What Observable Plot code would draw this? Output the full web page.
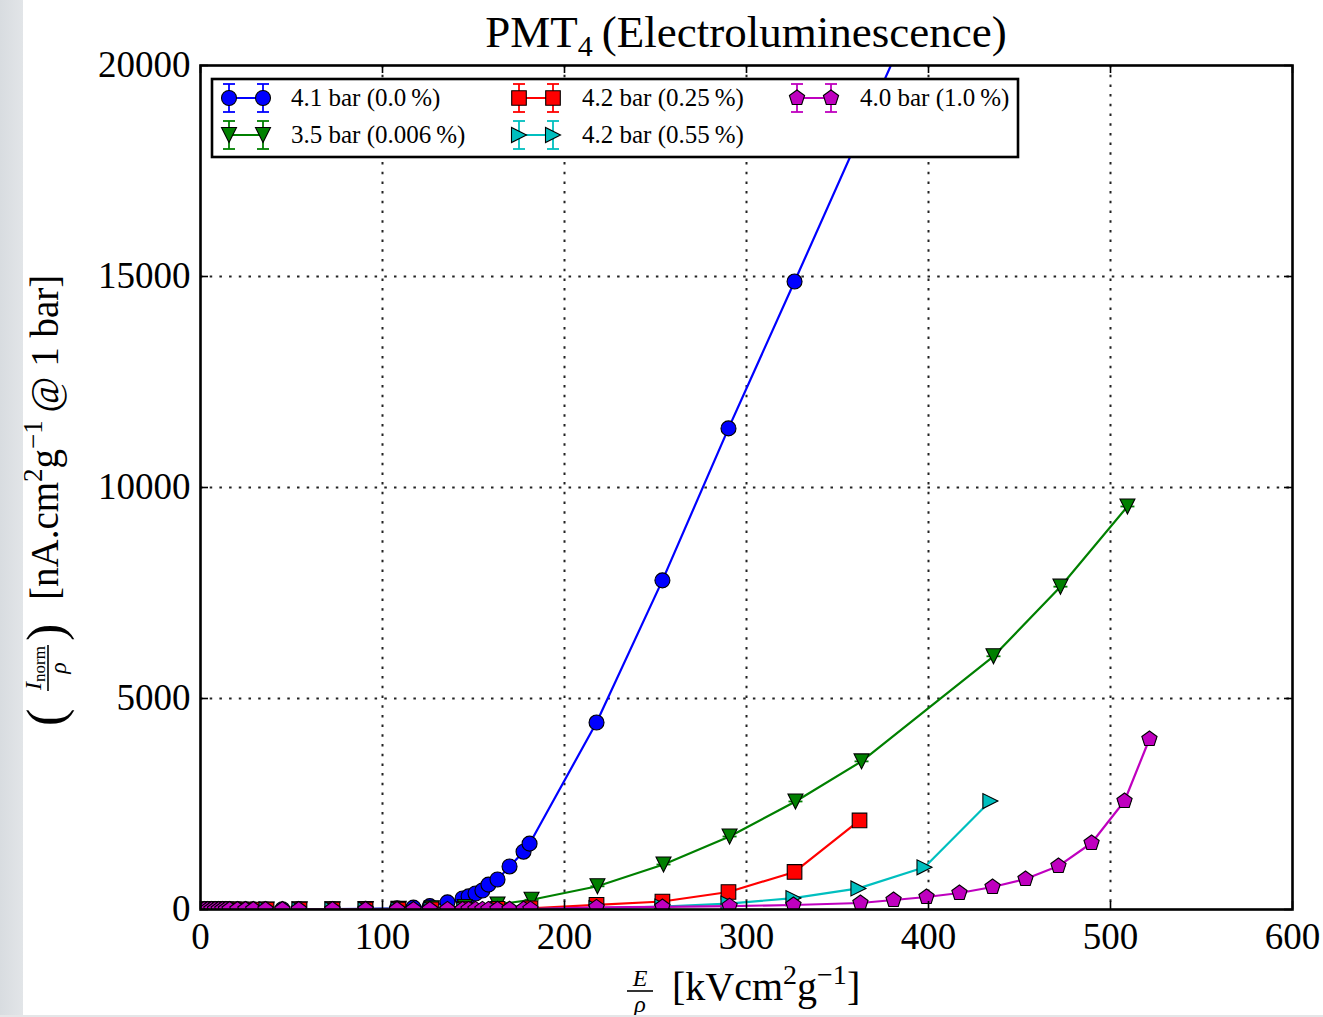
<!DOCTYPE html>
<html><head><meta charset="utf-8">
<script src="https://cdn.jsdelivr.net/npm/d3@7"></script>
<script src="https://cdn.jsdelivr.net/npm/@observablehq/plot@0.6"></script>
<style>
body{margin:0;background:#fff;}
#wrap{position:relative;width:1323px;height:1017px;overflow:hidden;font-family:"Liberation Serif",serif;background:#fff;}
#wrap svg{position:absolute;left:0;top:0;}
#wrap svg text{font-family:"Liberation Serif",serif;}
#strip{position:absolute;left:0;top:0;width:23px;height:1017px;background:linear-gradient(90deg,#d8dce0,#e2e5e8);}
#bstrip{position:absolute;left:0;top:1015px;width:1323px;height:2px;background:#e4e6e8;}
</style></head><body><div id="wrap"></div>
<script>
const xTicks = [0, 100, 200, 300, 400, 500, 600];
const yTicks = [0, 5000, 10000, 15000, 20000];

const seriesNames = ["4.1 bar (0.0\u2009%)", "3.5 bar (0.006\u2009%)", "4.2 bar (0.25\u2009%)", "4.2 bar (0.55\u2009%)", "4.0 bar (1.0\u2009%)"];
const seriesColors = ["#0000ff", "#008000", "#ff0000", "#00bfbf", "#bf00bf"];

const blueX = [2, 4, 6, 8, 10, 12, 14, 16, 20.3, 24.7, 29, 35.7, 45, 54, 72.5, 90.7, 108, 117, 126, 135.7, 144, 147.3, 151.1, 154.9, 158.2, 163.2, 169.8, 177.5, 180.8, 217.6, 253.8, 290.1, 326.4, 400];
const blueY = [0, 0, 0, 0, 0, 1, 1, 1, 2, 2, 3, 4, 6, 8, 12, 18, 30, 45, 80, 170, 260, 310, 380, 450, 590, 710, 1020, 1370, 1560, 4430, 7800, 11400, 14880, 22000];

const greenX = [2, 4, 6, 8, 10, 12, 14, 18.2, 36.3, 54.5, 72.6, 90.8, 108.9, 127.1, 145.2, 163.2, 181.9, 218.1, 254.4, 290.7, 326.9, 363.2, 435.7, 472.5, 509.3];
const greenY = [0, 0, 0, 0, 0, 0, 0, 0, 1, 2, 4, 8, 15, 30, 60, 120, 230, 550, 1066, 1730, 2560, 3510, 6000, 7650, 9550];

const redX = [2, 4, 6, 8, 10, 12, 14, 20.3, 24.7, 29, 36.3, 54.4, 72.5, 90.7, 108.8, 126.9, 145, 163.2, 181.3, 217.6, 253.8, 290.1, 326.4, 362.1];
const redY = [0, 0, 0, 0, 0, 0, 0, 0, 0, 0, 0, 0, 1, 1, 2, 4, 8, 15, 30, 110, 190, 415, 890, 2110];

const cyanX = [2, 4, 6, 8, 10, 12, 14, 20.3, 24.7, 29, 36.3, 54.4, 72.5, 90.7, 108.8, 126.9, 145, 163.2, 181.3, 217.6, 253.8, 290.1, 325.8, 361.5, 397.8, 434];
const cyanY = [0, 0, 0, 0, 0, 0, 0, 0, 0, 0, 0, 0, 0, 0, 1, 1, 2, 4, 8, 30, 70, 140, 270, 500, 1000, 2570];

const magentaX = [2, 4, 6, 8, 10, 12, 14, 16, 20.3, 24.7, 29, 35.7, 45, 54, 72.5, 90.7, 108, 117, 126, 135.7, 144, 147.3, 151.1, 154.9, 158.2, 163.2, 169.8, 177.5, 181.3, 217.6, 253.8, 290.7, 325.8, 362.6, 380.8, 398.9, 417, 435.2, 453.3, 471.4, 489.6, 507.7, 521.4];
const magentaY = [0, 0, 0, 0, 0, 0, 0, 0, 0, 0, 0, 0, 0, 0, 0, 0, 1, 1, 1, 2, 2, 3, 3, 4, 4, 5, 6, 8, 10, 50, 60, 80, 107, 154, 225, 296, 391, 533, 723, 1030, 1576, 2571, 4040];

// marker shapes (matplotlib-like), size = PI r^2
const rad = s => Math.sqrt(s / Math.PI);
const symCircle = {draw(c, s){const r = rad(s); c.moveTo(r, 0); c.arc(0, 0, r, 0, 2*Math.PI); c.closePath();}};
const symTriDown = {draw(c, s){const a = rad(s); c.moveTo(0, a); c.lineTo(-a, -a); c.lineTo(a, -a); c.closePath();}};
const symTriRight = {draw(c, s){const a = rad(s); c.moveTo(a, 0); c.lineTo(-a, -a); c.lineTo(-a, a); c.closePath();}};
const symSquare = {draw(c, s){const a = rad(s); c.moveTo(-a, -a); c.lineTo(a, -a); c.lineTo(a, a); c.lineTo(-a, a); c.closePath();}};
const symPentagon = {draw(c, s){const R = rad(s); for (let k = 0; k < 5; k++){const t = -Math.PI/2 + k*2*Math.PI/5; const px = R*Math.cos(t), py = R*Math.sin(t); k ? c.lineTo(px, py) : c.moveTo(px, py);} c.closePath();}};
const symCap = {draw(c, s){const a = rad(s); c.moveTo(-a, 0); c.lineTo(a, 0);}};

const series = [
  {name: seriesNames[0], color: seriesColors[0], xs: blueX, ys: blueY, sym: symCircle, r: 7.5},
  {name: seriesNames[1], color: seriesColors[1], xs: greenX, ys: greenY, sym: symTriDown, r: 7.5},
  {name: seriesNames[2], color: seriesColors[2], xs: redX, ys: redY, sym: symSquare, r: 7.3},
  {name: seriesNames[3], color: seriesColors[3], xs: cyanX, ys: cyanY, sym: symTriRight, r: 7.5},
  {name: seriesNames[4], color: seriesColors[4], xs: magentaX, ys: magentaY, sym: symPentagon, r: 8}
];

const W = 1323, H = 1017, mL = 200, mR = 31, mT = 65, mB = 108;
const plotW = W - mL - mR, plotH = H - mT - mB;
const tickLen = 8;

const marks = [
  Plot.gridX(xTicks.slice(1, -1), {stroke: "#222", strokeOpacity: 1, strokeWidth: 2, strokeDasharray: "2.5,7.2"}),
  Plot.gridY(yTicks.slice(1, -1), {stroke: "#222", strokeOpacity: 1, strokeWidth: 2, strokeDasharray: "2.5,7.2"})
];
for (const s of series) {
  const data = s.xs.map((x, i) => ({x, y: s.ys[i]}));
  marks.push(
    Plot.line(data, {x: "x", y: "y", stroke: s.color, strokeWidth: 2.2, clip: true}),
    Plot.dot(data, {x: "x", y: "y", symbol: symCap, r: 7, fill: "none", stroke: s.color, strokeWidth: 1.8, clip: true}),
    Plot.dot(data, {x: "x", y: "y", symbol: s.sym, r: s.r, fill: s.color, stroke: "black", strokeWidth: 1.1, clip: true})
  );
}
marks.push(
  Plot.ruleX(xTicks, {insetTop: plotH - tickLen, stroke: "black", strokeWidth: 1.6}),
  Plot.ruleX(xTicks, {insetBottom: plotH - tickLen, stroke: "black", strokeWidth: 1.6}),
  Plot.ruleY(yTicks, {insetRight: plotW - tickLen, stroke: "black", strokeWidth: 1.6}),
  Plot.ruleY(yTicks, {insetLeft: plotW - tickLen, stroke: "black", strokeWidth: 1.6}),
  Plot.frame({stroke: "black", strokeWidth: 2.6}),
  Plot.axisX(xTicks, {tickSize: 0, tickPadding: 13, fontSize: 37, tickFormat: d => String(d), label: null}),
  Plot.axisY(yTicks, {tickSize: 0, tickPadding: 10, fontSize: 37, tickFormat: d => String(d), label: null})
);

const chart = Plot.plot({
  width: W, height: H,
  marginLeft: mL, marginRight: mR, marginTop: mT, marginBottom: mB,
  style: {fontFamily: "'Liberation Serif', serif", fontSize: "37px", background: "transparent", color: "black", overflow: "visible"},
  x: {domain: [0, 600], ticks: xTicks},
  y: {domain: [0, 20000], ticks: yTicks},
  marks
});
const wrap = document.getElementById("wrap");
wrap.appendChild(chart);

// overlay: title, axis labels, legend
const ov = d3.select(wrap).append("svg").attr("width", W).attr("height", H)
  .attr("font-family", "Liberation Serif").style("pointer-events", "none");

// title
const title = ov.append("text").attr("x", mL + plotW / 2).attr("y", 47).attr("text-anchor", "middle").attr("font-size", 45).attr("fill", "black");
title.append("tspan").text("PMT");
title.append("tspan").attr("font-size", 30).attr("dy", 9).text("4");
title.append("tspan").attr("dy", -9).text("\u2009(Electroluminescence)");

// x label
const xl = ov.append("g");
xl.append("text").attr("x", 640).attr("y", 986).attr("text-anchor", "middle").attr("font-size", 24).attr("font-style", "italic").text("E");
xl.append("line").attr("x1", 627).attr("x2", 653).attr("y1", 991).attr("y2", 991).attr("stroke", "black").attr("stroke-width", 1.6);
xl.append("text").attr("x", 640).attr("y", 1012).attr("text-anchor", "middle").attr("font-size", 24).attr("font-style", "italic").text("\u03C1");
const xt = xl.append("text").attr("x", 672).attr("y", 1000).attr("font-size", 40);
xt.append("tspan").text("[kVcm");
xt.append("tspan").attr("font-size", 28).attr("dy", -16).text("2");
xt.append("tspan").attr("dy", 16).text("g");
xt.append("tspan").attr("font-size", 28).attr("dy", -16).text("\u22121");
xt.append("tspan").attr("dy", 16).text("]");

// y label (rotated)
const yl = ov.append("g").attr("transform", "translate(58,498) rotate(-90)");
yl.append("text").attr("x", -228).attr("y", 5).attr("font-size", 52).text("(");
yl.append("text").attr("x", -143).attr("y", 5).attr("font-size", 52).text(")");
const num = yl.append("text").attr("x", -170).attr("y", -17).attr("text-anchor", "middle").attr("font-size", 24);
num.append("tspan").attr("font-style", "italic").text("I");
num.append("tspan").attr("font-size", 17).attr("dy", 4).text("norm");
yl.append("line").attr("x1", -193).attr("x2", -147).attr("y1", -10).attr("y2", -10).attr("stroke", "black").attr("stroke-width", 1.6);
yl.append("text").attr("x", -170).attr("y", 8).attr("text-anchor", "middle").attr("font-size", 24).attr("font-style", "italic").text("\u03C1");
const yt = yl.append("text").attr("x", -102).attr("y", 0).attr("font-size", 39);
yt.append("tspan").text("[nA.cm");
yt.append("tspan").attr("font-size", 27).attr("dy", -16).text("2");
yt.append("tspan").attr("dy", 16).text("g");
yt.append("tspan").attr("font-size", 27).attr("dy", -16).text("\u22121");
yt.append("tspan").attr("dy", 16).text("\u2009@ 1 bar]");

// legend
const leg = ov.append("g");
leg.append("rect").attr("x", 212).attr("y", 79).attr("width", 806).attr("height", 78).attr("fill", "white").attr("stroke", "black").attr("stroke-width", 2.6);
const legPos = [
  {mx: [229, 263], tx: 291, cy: 98},
  {mx: [229, 263], tx: 291, cy: 135},
  {mx: [519, 553], tx: 582, cy: 98},
  {mx: [519, 553], tx: 582, cy: 135},
  {mx: [797, 831], tx: 860, cy: 98}
];
series.forEach((s, i) => {
  const p = legPos[i];
  const g = leg.append("g");
  g.append("line").attr("x1", p.mx[0]).attr("x2", p.mx[1]).attr("y1", p.cy).attr("y2", p.cy).attr("stroke", s.color).attr("stroke-width", 2.2);
  for (const mx of p.mx) {
    g.append("line").attr("x1", mx).attr("x2", mx).attr("y1", p.cy - 14).attr("y2", p.cy + 14).attr("stroke", s.color).attr("stroke-width", 1.8);
    g.append("line").attr("x1", mx - 6).attr("x2", mx + 6).attr("y1", p.cy - 14).attr("y2", p.cy - 14).attr("stroke", s.color).attr("stroke-width", 1.8);
    g.append("line").attr("x1", mx - 6).attr("x2", mx + 6).attr("y1", p.cy + 14).attr("y2", p.cy + 14).attr("stroke", s.color).attr("stroke-width", 1.8);
    const pth = d3.path(); s.sym.draw(pth, Math.PI * s.r * s.r);
    g.append("path").attr("d", pth.toString()).attr("transform", `translate(${mx},${p.cy})`).attr("fill", s.color).attr("stroke", "black").attr("stroke-width", 1.1);
  }
  g.append("text").attr("x", p.tx).attr("y", p.cy + 8).attr("font-size", 25).attr("font-family", "Liberation Serif").text(s.name);
});

const strip = document.createElement("div"); strip.id = "strip"; wrap.appendChild(strip);
const bstrip = document.createElement("div"); bstrip.id = "bstrip"; wrap.appendChild(bstrip);
</script></body></html>
